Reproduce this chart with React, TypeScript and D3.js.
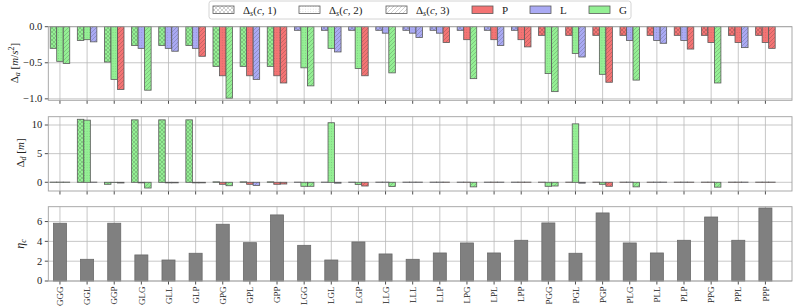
import React from 'react';
import * as d3 from 'd3';

const categories = [
  'GGG', 'GGL', 'GGP', 'GLG', 'GLL', 'GLP', 'GPG', 'GPL', 'GPP',
  'LGG', 'LGL', 'LGP', 'LLG', 'LLL', 'LLP', 'LPG', 'LPL', 'LPP',
  'PGG', 'PGL', 'PGP', 'PLG', 'PLL', 'PLP', 'PPG', 'PPL', 'PPP',
];

// Δa per position c = 1, 2, 3
const deltaA1 = [-0.30, -0.19, -0.49, -0.26, -0.26, -0.26, -0.55, -0.55, -0.55, -0.05, -0.05, -0.05, -0.05, -0.05, -0.05, -0.05, -0.05, -0.05, -0.12, -0.12, -0.12, -0.12, -0.12, -0.12, -0.12, -0.12, -0.12];
const deltaA2 = [-0.48, -0.18, -0.73, -0.30, -0.30, -0.30, -0.68, -0.68, -0.68, -0.57, -0.30, -0.58, -0.09, -0.09, -0.09, -0.18, -0.18, -0.18, -0.65, -0.37, -0.66, -0.19, -0.19, -0.19, -0.22, -0.22, -0.22];
const deltaA3 = [-0.51, -0.21, -0.87, -0.88, -0.34, -0.41, -0.99, -0.73, -0.78, -0.82, -0.35, -0.68, -0.64, -0.15, -0.22, -0.72, -0.26, -0.28, -0.90, -0.42, -0.77, -0.74, -0.23, -0.31, -0.78, -0.29, -0.30];

// Δd per position c = 1, 2, 3
const deltaD1 = [0.03, 11.0, -0.35, 10.9, 10.9, 10.9, 0.08, 0.08, 0.08, 0.03, 0.03, 0.03, 0.03, 0.03, 0.03, 0.03, 0.03, 0.03, 0.03, 0.03, 0.03, 0.03, 0.03, 0.03, 0.03, 0.03, 0.03];
const deltaD2 = [0.03, 10.85, -0.05, -0.1, -0.1, -0.1, -0.35, -0.35, -0.35, -0.7, 10.4, -0.4, 0.03, 0.03, 0.03, 0.03, 0.03, 0.03, -0.7, 10.2, -0.35, 0.03, 0.03, 0.03, 0.03, 0.03, 0.03];
const deltaD3 = [0.03, 0.03, -0.12, -1.0, -0.1, -0.1, -0.6, -0.55, -0.3, -0.7, -0.15, -0.65, -0.75, 0.03, 0.03, -0.8, 0.03, 0.03, -0.65, -0.15, -0.7, -0.8, 0.03, 0.03, -0.85, 0.03, 0.03];

const eta = [5.83, 2.19, 5.83, 2.63, 2.12, 2.8, 5.73, 3.87, 6.67, 3.6, 2.12, 3.94, 2.73, 2.19, 2.83, 3.84, 2.83, 4.11, 5.86, 2.8, 6.87, 3.84, 2.83, 4.11, 6.46, 4.11, 7.37];

const letterColor: Record<string, string> = { P: '#f47474', L: '#aaaaf4', G: '#94f094' };
const letters = ['P', 'L', 'G'];
const hatches = ['xx', 'dots', 'diag'];

const FONT = '"Liberation Serif", "DejaVu Serif", serif';
const W = 793;
const H = 308;
const left = 48.3;
const right = 792;

const x = d3.scaleLinear().domain([-0.43, 26.98]).range([left, right]);
const yA = d3.scaleLinear().domain([-1.02, 0]).range([100.3, 26.7]);
const yD = d3.scaleLinear().domain([-1.52, 11.45]).range([191, 116.7]);
const yE = d3.scaleLinear().domain([0, 7.5]).range([281, 206.7]);

const barW = 0.24;
const etaW = 0.48;

const HatchDefs = () => {
  const colors = [...letters.map(l => ({ id: l, c: letterColor[l] })), { id: 'W', c: '#ffffff' }];
  const hs = 'rgba(40,40,40,0.35)';
  return (
    <defs>
      {colors.map(({ id, c }) => (
        <React.Fragment key={id}>
          <pattern id={`h-xx-${id}`} patternUnits="userSpaceOnUse" width={4} height={4}>
            <rect width={4} height={4} fill={c} />
            <path d="M0,0L4,4M4,0L0,4" stroke={hs} strokeWidth={0.6} />
          </pattern>
          <pattern id={`h-dots-${id}`} patternUnits="userSpaceOnUse" width={2.6} height={2.6}>
            <rect width={2.6} height={2.6} fill={c} />
            <circle cx={1.3} cy={1.3} r={0.4} fill={hs} />
          </pattern>
          <pattern id={`h-diag-${id}`} patternUnits="userSpaceOnUse" width={4} height={4}>
            <rect width={4} height={4} fill={c} />
            <path d="M-1,1L1,-1M0,4L4,0M3,5L5,3" stroke={hs} strokeWidth={0.6} />
          </pattern>
        </React.Fragment>
      ))}
    </defs>
  );
};

const Panel = ({ y, ticks, fmt, showLabels }: { y: d3.ScaleLinear<number, number>; ticks: number[]; fmt: (v: number) => string; showLabels: boolean }) => {
  const [y0, y1] = y.range();
  return (
    <g>
      {categories.map((_, i) => (
        <line key={`gx${i}`} x1={x(i)} x2={x(i)} y1={y1} y2={y0} stroke="#b9b9b9" strokeWidth={0.8} />
      ))}
      {ticks.map(t => (
        <line key={`gy${t}`} x1={left} x2={right} y1={y(t)} y2={y(t)} stroke="#b9b9b9" strokeWidth={0.8} />
      ))}
      {ticks.map(t => (
        <g key={`ty${t}`}>
          <line x1={left - 3.5} x2={left} y1={y(t)} y2={y(t)} stroke="#222" strokeWidth={0.8} />
          <text x={left - 6} y={y(t)} dy="0.33em" textAnchor="end" fontSize={10.5} fontFamily={FONT} fill="#222">{fmt(t)}</text>
        </g>
      ))}
      {categories.map((c, i) => (
        <g key={`tx${i}`}>
          <line x1={x(i)} x2={x(i)} y1={y0} y2={y0 + 3.5} stroke="#222" strokeWidth={0.8} />
          {showLabels && (
            <text transform={`translate(${x(i) + 3.2},${y0 + 5.5}) rotate(-90)`} textAnchor="end" fontSize={9} fontFamily={FONT} fill="#222">{c}</text>
          )}
        </g>
      ))}
    </g>
  );
};

const Frame = ({ y }: { y: d3.ScaleLinear<number, number> }) => {
  const [y0, y1] = y.range();
  return <rect x={left} y={y1} width={right - left} height={y0 - y1} fill="none" stroke="#a0a0a0" strokeWidth={0.9} />;
};

const GroupBars = ({ y, series }: { y: d3.ScaleLinear<number, number>; series: number[][] }) => (
  <g>
    {categories.map((cat, i) =>
      series.map((vals, c) => {
        const v = vals[i];
        const x0 = x(i + (c - 1.5) * barW);
        const x1 = x(i + (c - 0.5) * barW);
        const ya = y(0);
        const yb = y(v);
        return (
          <rect
            key={`${i}-${c}`}
            x={x0}
            y={Math.min(ya, yb)}
            width={x1 - x0}
            height={Math.abs(yb - ya)}
            fill={`url(#h-${hatches[c]}-${cat[c]})`}
            stroke="#5a5a5a"
            strokeWidth={0.8}
          />
        );
      })
    )}
  </g>
);

const legendItems = [
  { kind: 'h', idx: 0, label: '1' },
  { kind: 'h', idx: 1, label: '2' },
  { kind: 'h', idx: 2, label: '3' },
  { kind: 'c', idx: 0, label: 'P' },
  { kind: 'c', idx: 1, label: 'L' },
  { kind: 'c', idx: 2, label: 'G' },
];
const legendX = [213, 299, 386, 472, 530, 589];

const Legend = () => (
  <g>
    <rect x={209} y={1} width={422} height={18} rx={2.5} fill="white" fillOpacity={0.85} stroke="#cfcfcf" strokeWidth={0.9} />
    {legendItems.map((it, k) => {
      const lx = legendX[k];
      const fill = it.kind === 'h' ? `url(#h-${hatches[it.idx]}-W)` : letterColor[letters[it.idx]];
      return (
        <g key={k}>
          <rect x={lx} y={6} width={21} height={7.5} fill={fill} stroke="#5a5a5a" strokeWidth={0.8} />
          {it.kind === 'h' ? (
            <text x={lx + 30} y={14} fontSize={11} fontFamily={FONT} fill="#222">
              Δ<tspan fontStyle="italic" fontSize={8} dy={2}>s</tspan>
              <tspan dy={-2}>(</tspan><tspan fontStyle="italic">c</tspan>, {it.label})
            </text>
          ) : (
            <text x={lx + 30} y={14} fontSize={11} fontFamily={FONT} fill="#222">{it.label}</text>
          )}
        </g>
      );
    })}
  </g>
);

const fmtA = (v: number) => (v < 0 ? '−' : '') + Math.abs(v).toFixed(1);
const fmtI = (v: number) => String(v);

export default function App() {
  return (
    <svg width={W} height={H} style={{ position: 'absolute', left: 0, top: 0, background: 'white' }}>
      <HatchDefs />
      <Panel y={yA} ticks={[0, -0.5, -1.0]} fmt={fmtA} showLabels={false} />
      <GroupBars y={yA} series={[deltaA1, deltaA2, deltaA3]} />
      <Frame y={yA} />

      <Panel y={yD} ticks={[0, 5, 10]} fmt={fmtI} showLabels={false} />
      <GroupBars y={yD} series={[deltaD1, deltaD2, deltaD3]} />
      <Frame y={yD} />

      <Panel y={yE} ticks={[0, 2, 4, 6]} fmt={fmtI} showLabels={true} />
      {eta.map((v, i) => (
        <rect
          key={i}
          x={x(i - etaW / 2)}
          y={yE(v)}
          width={x(i + etaW / 2) - x(i - etaW / 2)}
          height={yE(0) - yE(v)}
          fill="#808080"
          stroke="#6a6a6a"
          strokeWidth={0.8}
        />
      ))}
      <Frame y={yE} />

      <Legend />

      <text transform="translate(18,63) rotate(-90)" textAnchor="middle" fontSize={11} fontFamily={FONT} fill="#222">
        Δ<tspan fontStyle="italic" fontSize={8} dy={2}>a</tspan>
        <tspan dy={-2}> [</tspan><tspan fontStyle="italic">m</tspan>/<tspan fontStyle="italic">s</tspan>
        <tspan fontSize={8} dy={-4}>2</tspan><tspan dy={4}>]</tspan>
      </text>
      <text transform="translate(24,153) rotate(-90)" textAnchor="middle" fontSize={11} fontFamily={FONT} fill="#222">
        Δ<tspan fontStyle="italic" fontSize={8} dy={2}>d</tspan>
        <tspan dy={-2}> [</tspan><tspan fontStyle="italic">m</tspan>]
      </text>
      <text transform="translate(24,244) rotate(-90)" textAnchor="middle" fontSize={12} fontFamily={FONT} fill="#222">
        <tspan fontStyle="italic">η</tspan><tspan fontStyle="italic" fontSize={8} dy={2}>c</tspan>
      </text>
    </svg>
  );
}
